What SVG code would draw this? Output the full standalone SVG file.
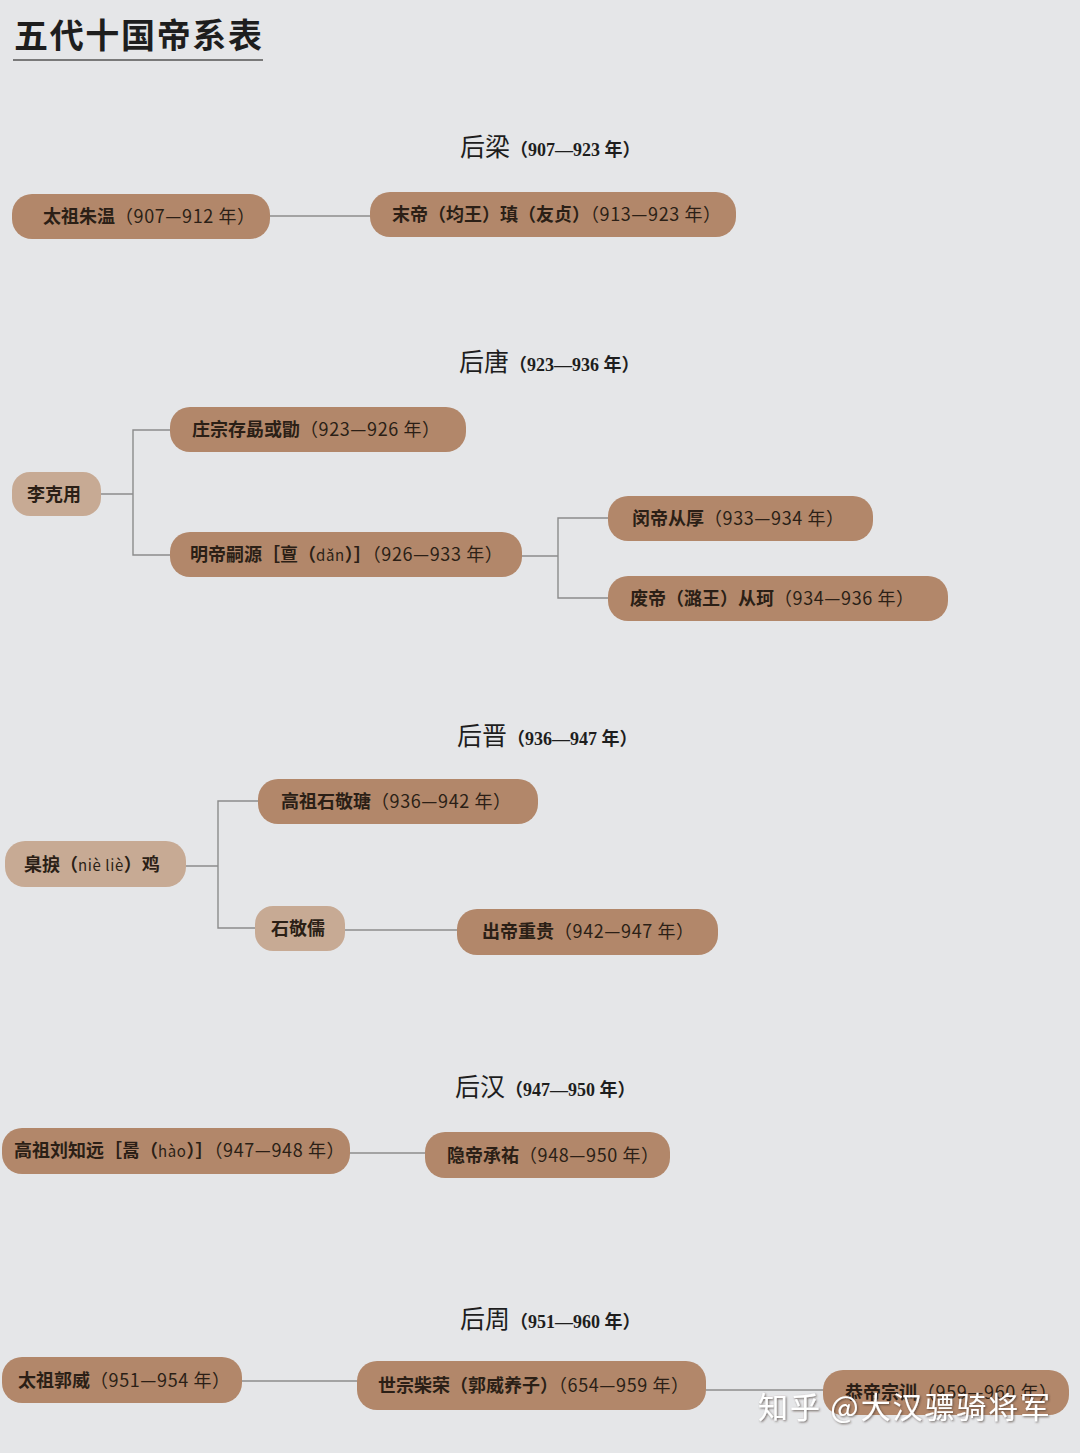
<svg xmlns="http://www.w3.org/2000/svg" width="1080" height="1453" viewBox="0 0 1080 1453">
<defs>
<filter id="sh" x="-5%" y="-30%" width="110%" height="160%"><feDropShadow dx="1" dy="1" stdDeviation="1.2" flood-color="#3a2e26" flood-opacity="0.7"/></filter>
</defs>
<style>
.bg{fill:#e5e6e8}
.n rect{fill:#b2876a}
.l rect{fill:#c7aa94}
.n text,.l text{font-family:"Noto Sans CJK SC","Noto Sans",sans-serif;font-size:18px;font-weight:700;fill:#2b1f16}
.yr{font-weight:400;letter-spacing:0.6px}
.h{font-family:"Noto Sans CJK SC",serif;font-size:25px;fill:#1e1e1e}
.hs{font-family:"Liberation Serif","Noto Sans CJK SC",serif;font-size:18px;font-weight:700}
.c{stroke:#8c8c8c;stroke-width:1.4;fill:none}
.title{font-family:"Noto Sans CJK SC",serif;font-size:34px;font-weight:700;fill:#1e1e1e}
.wm{font-family:"Noto Sans CJK SC",sans-serif;font-size:30px;fill:#ffffff}
</style>
<rect class="bg" x="0" y="0" width="1080" height="1453"/>
<g id="title">
<text class="title" x="14" y="48" textLength="248">五代十国帝系表</text>
<line x1="13" y1="60" x2="263" y2="60" stroke="#555" stroke-width="1.5"/>
</g>
<g id="headers">
<text class="h" x="460" y="156">后梁<tspan class="hs">（907—923 年）</tspan></text>
<text class="h" x="459" y="371">后唐<tspan class="hs">（923—936 年）</tspan></text>
<text class="h" x="457" y="745">后晋<tspan class="hs">（936—947 年）</tspan></text>
<text class="h" x="455" y="1096">后汉<tspan class="hs">（947—950 年）</tspan></text>
<text class="h" x="460" y="1328">后周<tspan class="hs">（951—960 年）</tspan></text>
</g>
<g id="connectors">
<path class="c" d="M270 216H370"/>
<path class="c" d="M101 494H133M170 430H133V555H170"/>
<path class="c" d="M522 556H558M608 518H558V598H608"/>
<path class="c" d="M186 866H218M258 801H218V928H255"/>
<path class="c" d="M345 930H457"/>
<path class="c" d="M350 1153H425"/>
<path class="c" d="M242 1381H357"/>
<path class="c" d="M706 1390H823"/>
</g>
<g id="n1" class="n"><rect x="12" y="194" width="258" height="45" rx="20"/><text x="43" y="223">太祖朱温<tspan class="yr">（907—912 年）</tspan></text></g>
<g id="n2" class="n"><rect x="370" y="192" width="366" height="45" rx="20"/><text x="392" y="221">末帝（均王）瑱（友贞）<tspan class="yr">（913—923 年）</tspan></text></g>
<g id="n3" class="l"><rect x="12" y="472" width="89" height="44" rx="18"/><text x="27" y="501">李克用</text></g>
<g id="n4" class="n"><rect x="170" y="407" width="296" height="45" rx="20"/><text x="192" y="436">庄宗存勗或勖<tspan class="yr">（923—926 年）</tspan></text></g>
<g id="n5" class="n"><rect x="170" y="532" width="352" height="45" rx="20"/><text x="190" y="561">明帝嗣源［亶（<tspan class="yr" font-size="15">dǎn</tspan>）］<tspan class="yr">（926—933 年）</tspan></text></g>
<g id="n6" class="n"><rect x="608" y="496" width="265" height="45" rx="20"/><text x="632" y="525">闵帝从厚<tspan class="yr">（933—934 年）</tspan></text></g>
<g id="n7" class="n"><rect x="608" y="576" width="340" height="45" rx="20"/><text x="630" y="605">废帝（潞王）从珂<tspan class="yr">（934—936 年）</tspan></text></g>
<g id="n8" class="l"><rect x="5" y="841" width="181" height="46" rx="20"/><text x="24" y="871">臬捩（<tspan class="yr" font-size="15">niè liè</tspan>）鸡</text></g>
<g id="n9" class="n"><rect x="258" y="779" width="280" height="45" rx="20"/><text x="281" y="808">高祖石敬瑭<tspan class="yr">（936—942 年）</tspan></text></g>
<g id="n10" class="l"><rect x="255" y="906" width="90" height="45" rx="18"/><text x="271" y="935">石敬儒</text></g>
<g id="n11" class="n"><rect x="457" y="909" width="261" height="46" rx="20"/><text x="482" y="938">出帝重贵<tspan class="yr">（942—947 年）</tspan></text></g>
<g id="n12" class="n"><rect x="2" y="1128" width="348" height="46" rx="20"/><text x="14" y="1157">高祖刘知远［暠（<tspan class="yr" font-size="15">hào</tspan>）］<tspan class="yr">（947—948 年）</tspan></text></g>
<g id="n13" class="n"><rect x="425" y="1132" width="245" height="46" rx="20"/><text x="447" y="1162">隐帝承祐<tspan class="yr">（948—950 年）</tspan></text></g>
<g id="n14" class="n"><rect x="2" y="1357" width="240" height="46" rx="20"/><text x="18" y="1387">太祖郭威<tspan class="yr">（951—954 年）</tspan></text></g>
<g id="n15" class="n"><rect x="357" y="1361" width="349" height="49" rx="20"/><text x="378" y="1392">世宗柴荣（郭威养子）<tspan class="yr">（654—959 年）</tspan></text></g>
<g id="n16" class="n"><rect x="823" y="1370" width="246" height="45" rx="20"/><text x="845" y="1399">恭帝宗训<tspan class="yr">（959—960 年）</tspan></text></g>
<g id="watermark"><text class="wm" x="758" y="1418" textLength="292" filter="url(#sh)">知乎 @大汉骠骑将军</text></g>
</svg>
